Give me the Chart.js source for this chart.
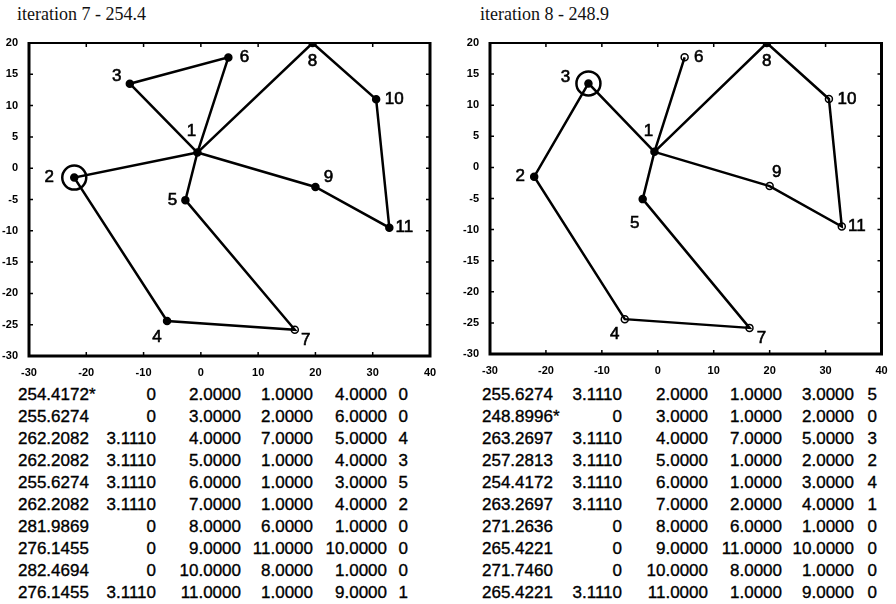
<!DOCTYPE html>
<html>
<head>
<meta charset="utf-8">
<script src="https://cdn.jsdelivr.net/npm/chart.js@4.4.1/dist/chart.umd.min.js"></script>
<style>
  body { margin: 0; background: #fff; width: 896px; height: 604px; overflow: hidden; position: relative; }
  .title { position: absolute; top: 4px; font: 18px "Liberation Serif", "Times New Roman", serif; color: #111; white-space: nowrap; }
  .panel { position: absolute; top: 0; width: 448px; height: 378px; }
  .cell { position: absolute; font: 17px "Liberation Sans", Arial, sans-serif; color: #000; line-height: 22px; white-space: nowrap; -webkit-text-stroke: 0.35px #000; }
</style>
</head>
<body>
<div class="title" style="left:17px">iteration 7 - 254.4</div>
<div class="title" style="left:480px">iteration 8 - 248.9</div>
<div class="panel" style="left:0"><canvas id="chart7"></canvas></div>
<div class="panel" style="left:448px"><canvas id="chart8"></canvas></div>
<div id="tables"></div>
<script>
// node positions (node 1 = depot)
var nodeX = [-0.6, -22.1, -12.4, -5.9, -2.7, 4.8, 16.4, 19.5, 20.0, 30.6, 32.9];
var nodeY = [2.5, -1.5, 13.5, -24.4, -5.1, 17.7, -25.8, 20.0, -3.0, 11.0, -9.5];

var xTicks = [-30, -20, -10, 0, 10, 20, 30, 40];
var yTicks = [-30, -25, -20, -15, -10, -5, 0, 5, 10, 15, 20];

// routes, highlighted node and open markers
var routes7 = [[1, 3, 6, 1], [1, 8, 10, 11, 9, 1], [1, 2, 4, 7, 5, 1]];
var routes8 = [[1, 3, 2, 4, 7, 5, 1], [1, 6, 1], [1, 8, 10, 11, 9, 1]];
var marked7 = 2;
var marked8 = 3;
var open7 = [7];
var open8 = [4, 6, 7, 9, 10, 11];

// table columns
var cost7 = [254.4172, 255.6274, 262.2082, 262.2082, 255.6274, 262.2082, 281.9869, 276.1455, 282.4694, 276.1455];
var pen7 = [0, 0, 3.111, 3.111, 3.111, 3.111, 0, 0, 0, 3.111];
var from7 = [1, 2, 7, 1, 1, 1, 6, 11, 8, 1];
var to7 = [4, 6, 5, 4, 3, 4, 1, 10, 1, 9];
var rank7 = [0, 0, 4, 3, 5, 2, 0, 0, 0, 1];
var best7 = 0;

var cost8 = [255.6274, 248.8996, 263.2697, 257.2813, 254.4172, 263.2697, 271.2636, 265.4221, 271.746, 265.4221];
var pen8 = [3.111, 0, 3.111, 3.111, 3.111, 3.111, 0, 0, 0, 3.111];
var from8 = [1, 1, 7, 1, 1, 2, 6, 11, 8, 1];
var to8 = [3, 2, 5, 2, 3, 4, 1, 10, 1, 9];
var rank8 = [5, 0, 3, 2, 4, 1, 0, 0, 0, 0];
var best8 = 1;

var moveNodes = [2, 3, 4, 5, 6, 7, 8, 9, 10, 11];

// label offsets in px (style only)
var labelPos7 = [[-6, -21], [-25, 0], [-13, -7], [-10, 16], [-13, 0], [16, 0], [11, 11], [0, 18], [13, -10], [18, 0], [15, 0]];
var labelPos8 = [[-6, -21], [-14, 0], [-23, -6], [-10, 15], [-8, 24], [14, 0], [12, 10], [0, 18], [7, -14], [18, 0], [15, 0]];

function pt(n) {
    return { x: nodeX[n - 1], y: nodeY[n - 1] };
}

var framePlugin = {
    id: "frame",
    afterDatasetsDraw: function (chart) {
        var ctx = chart.ctx;
        var a = chart.chartArea;
        var xs = chart.scales.x, ys = chart.scales.y;
        ctx.save();
        ctx.strokeStyle = "#000";
        ctx.lineWidth = 1.5;
        xTicks.forEach(function (v) {
            var px = xs.getPixelForValue(v);
            ctx.beginPath();
            ctx.moveTo(px, a.bottom); ctx.lineTo(px, a.bottom - 4);
            ctx.moveTo(px, a.top); ctx.lineTo(px, a.top + 4);
            ctx.stroke();
        });
        yTicks.forEach(function (v) {
            var py = ys.getPixelForValue(v);
            ctx.beginPath();
            ctx.moveTo(a.left, py); ctx.lineTo(a.left + 4, py);
            ctx.moveTo(a.right, py); ctx.lineTo(a.right - 4, py);
            ctx.stroke();
        });
        ctx.lineWidth = 2;
        ctx.beginPath();
        ctx.moveTo(a.left, a.top); ctx.lineTo(a.right, a.top);
        ctx.stroke();
        ctx.lineWidth = 3;
        ctx.beginPath();
        ctx.moveTo(a.left, a.top - 1); ctx.lineTo(a.left, a.bottom);
        ctx.lineTo(a.right, a.bottom); ctx.lineTo(a.right, a.top - 1);
        ctx.stroke();

        var offs = chart.options.plugins.frame.labelPos;
        ctx.fillStyle = "#000";
        ctx.lineWidth = 0.6;
        ctx.font = '17px "Liberation Sans", Arial, sans-serif';
        ctx.textAlign = "center";
        ctx.textBaseline = "middle";
        nodeX.forEach(function (x, i) {
            var px = xs.getPixelForValue(x) + offs[i][0];
            var py = ys.getPixelForValue(nodeY[i]) + offs[i][1];
            ctx.fillText(String(i + 1), px, py);
            ctx.strokeText(String(i + 1), px, py);
        });
        ctx.restore();
    }
};

function makePanel(id, routes, marked, openNodes, labelPos, padLeft, padRight, xHeight) {
    var datasets = routes.map(function (r) {
        return {
            data: r.map(pt),
            showLine: true,
            borderColor: "#000",
            borderWidth: 2.5,
            pointRadius: 0
        };
    });
    datasets.push({
        data: nodeX.map(function (x, i) { return pt(i + 1); }),
        pointRadius: 3.5,
        pointBorderWidth: 1.5,
        pointBorderColor: "#000",
        pointBackgroundColor: nodeX.map(function (x, i) {
            return openNodes.indexOf(i + 1) >= 0 ? "#fff" : "#000";
        })
    });
    datasets.push({
        data: [pt(marked)],
        pointRadius: 12,
        pointBorderWidth: 2.5,
        pointBorderColor: "#000",
        pointBackgroundColor: "rgba(0,0,0,0)"
    });

    var tickFont = { family: "'Liberation Sans', Arial, sans-serif", size: 11, weight: "bold" };
    new Chart(document.getElementById(id), {
        type: "scatter",
        data: { datasets: datasets },
        options: {
            responsive: true,
            maintainAspectRatio: false,
            animation: false,
            layout: { padding: { top: 43, left: padLeft, right: padRight, bottom: 0 } },
            plugins: {
                legend: { display: false },
                tooltip: { enabled: false },
                frame: { labelPos: labelPos }
            },
            scales: {
                x: {
                    type: "linear", min: -30, max: 40,
                    grid: { display: false }, border: { display: false },
                    ticks: { stepSize: 10, color: "#000", font: tickFont, padding: 2, maxRotation: 0 },
                    afterFit: function (s) { s.height = xHeight; }
                },
                y: {
                    type: "linear", min: -30, max: 20,
                    grid: { display: false }, border: { display: false },
                    ticks: { stepSize: 5, color: "#000", font: tickFont, padding: 3 },
                    afterFit: function (s) { s.width = 29; }
                }
            }
        },
        plugins: [framePlugin]
    });
}

function fmt(v) {
    return v === 0 ? "0" : v.toFixed(4);
}

function makeTable(left, rights, cost, pen, from, to, rank, best) {
    var box = document.getElementById("tables");
    cost.forEach(function (c, i) {
        var top = 384 + 22 * i;
        var texts = [
            fmt(pen[i]),
            moveNodes[i].toFixed(4),
            from[i].toFixed(4),
            to[i].toFixed(4),
            String(rank[i])
        ];
        var first = document.createElement("div");
        first.className = "cell";
        first.style.left = left + "px";
        first.style.top = top + "px";
        first.textContent = c.toFixed(4) + (i === best ? "*" : "");
        box.appendChild(first);
        texts.forEach(function (t, j) {
            var d = document.createElement("div");
            d.className = "cell";
            d.style.right = (896 - rights[j]) + "px";
            d.style.top = top + "px";
            d.textContent = t;
            box.appendChild(d);
        });
    });
}

makePanel("chart7", routes7, marked7, open7, labelPos7, 0, 18, 22);
makePanel("chart8", routes8, marked8, open8, labelPos8, 13, 6, 24);

makeTable(18, [156, 241, 313, 387, 408], cost7, pen7, from7, to7, rank7, best7);
makeTable(482, [622, 708, 782, 854, 877], cost8, pen8, from8, to8, rank8, best8);
</script>
</body>
</html>
